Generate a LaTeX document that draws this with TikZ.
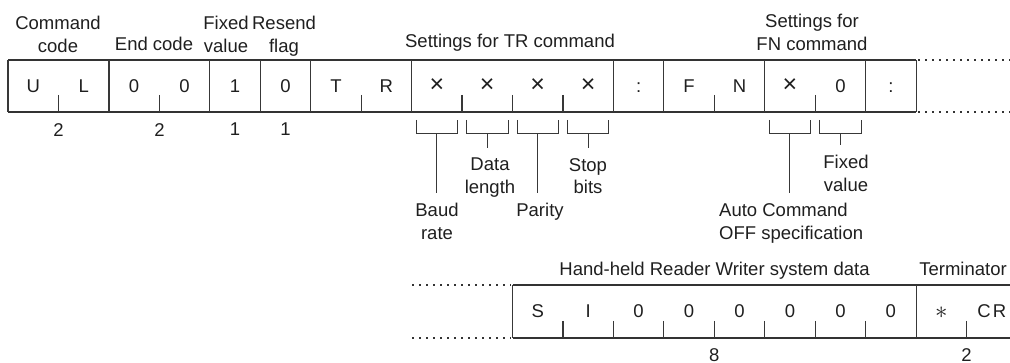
\documentclass[tikz,border=0pt]{standalone}
\usepackage{fontspec}
\setmainfont{Liberation Sans}
\begin{document}
\begin{tikzpicture}[x=1pt,y=-1pt,
  txt/.style={font=\fontsize{18.5}{22.5}\selectfont, inner sep=0pt, text=black!88},
  lbl/.style={txt, align=center, anchor=north},
  ch/.style={txt, anchor=base},
  frameline/.style={line width=1.8pt, draw=black!80},
  divider/.style={line width=1.2pt, draw=black!78},
  dotline/.style={line width=1.8pt, draw=black!80, dash pattern=on 1.8pt off 5.2pt},
  brk/.style={line width=1pt, draw=black!78},
  stem/.style={line width=1pt, draw=black!78, shorten >=10pt}]
\useasboundingbox (0,0) rectangle (1010,363);
\def\cw{50.45}
\newcommand\crossmark{{\fontsize{25}{25}\selectfont ×}}
\newcommand\starmark{\raisebox{-1pt}{\fontsize{26}{26}\selectfont$\ast$}}
% ---------- top row ----------
\draw[frameline] (8,60) -- (916,60);
\draw[frameline] (8,112) -- (916,112);
\draw[dotline] (918,60) -- (1010,60);
\draw[dotline] (918,112) -- (1010,112);
\foreach \k in {0,2,4,5,6,8,12,13,15,17,18}
  \draw[divider] ({8+\cw*\k},60) -- ({8+\cw*\k},112);
\foreach \k in {1,3,7,9,10,11,14,16}
  \draw[divider] ({8+\cw*\k},95) -- ({8+\cw*\k},112);
\foreach \c [count=\i from 0] in {U,L,0,0,1,0,T,R,\crossmark,\crossmark,\crossmark,\crossmark,:,F,N,\crossmark,0,:}
  \node[ch] (t\i) at ({8+\cw*(\i+0.5)},92.7) {\c};
% headers
\node[lbl] (hcmd) at (58,16) {Command\\code};
\node[lbl] (hend) at (154,37) {End code};
\node[lbl] (hfix) at (226,16) {Fixed\\value};
\node[lbl] (hres) at (284,16) {Resend\\flag};
\node[lbl] (htr) at (510,34) {Settings for TR command};
\node[lbl] (hfn) at (812,14) {Settings for\\FN command};
% counts
\node[lbl] (n1) at (58.5,123) {2};
\node[lbl] (n2) at (159.5,123) {2};
\node[lbl] (n3) at (235,123) {1};
\node[lbl] (n4) at (285.5,123) {1};
% brackets
\foreach \k in {8,9,10,11,15,16}{
  \draw[brk] ({8+\cw*\k+4.5},120) |- ({8+\cw*(\k+1)-4.5},134) -- ({8+\cw*(\k+1)-4.5},120);
  \coordinate (b\k) at ({8+\cw*(\k+0.5)},134);
}
\node[lbl] (baud) at (437,203) {Baud\\rate};
\node[lbl] (dlen) at (490,158) {Data\\length};
\node[lbl] (par) at (540,203) {Parity};
\node[lbl] (stop) at (588,158) {Stop\\bits};
\node[txt, align=left, anchor=north west] (auto) at (719,203) {Auto Command\\OFF specification};
\node[lbl] (fixv) at (846,155) {Fixed\\value};
\draw[stem] (b8) -- (b8 |- baud.north);
\draw[stem] (b9) -- (b9 |- dlen.north);
\draw[stem] (b10) -- (b10 |- par.north);
\draw[stem] (b11) -- (b11 |- stop.north);
\draw[stem] (b15) -- (b15 |- auto.north);
\draw[stem] (b16) -- (b16 |- fixv.north);
% ---------- bottom row ----------
\draw[dotline] (412,285) -- (511,285);
\draw[dotline] (412,338) -- (511,338);
\draw[frameline] ({8+\cw*10},285) -- (1010,285);
\draw[frameline] ({8+\cw*10},338) -- (1010,338);
\foreach \k in {10,18}
  \draw[divider] ({8+\cw*\k},285) -- ({8+\cw*\k},338);
\foreach \k in {11,12,13,14,15,16,17,19}
  \draw[divider] ({8+\cw*\k},321) -- ({8+\cw*\k},338);
\foreach \c [count=\i from 10] in {S,I,0,0,0,0,0,0,\starmark,C\kern2pt R}
  \node[ch] (s\i) at ({8+\cw*(\i+0.5)},318) {\c};
\node[lbl] (hsys) at (714.5,262) {Hand-held Reader Writer system data};
\node[lbl] (hterm) at (963,262) {Terminator};
\node[lbl] (n8) at ({8+\cw*14},348) {8};
\node[lbl] (n9) at ({8+\cw*19},348) {2};
\end{tikzpicture}
\end{document}
